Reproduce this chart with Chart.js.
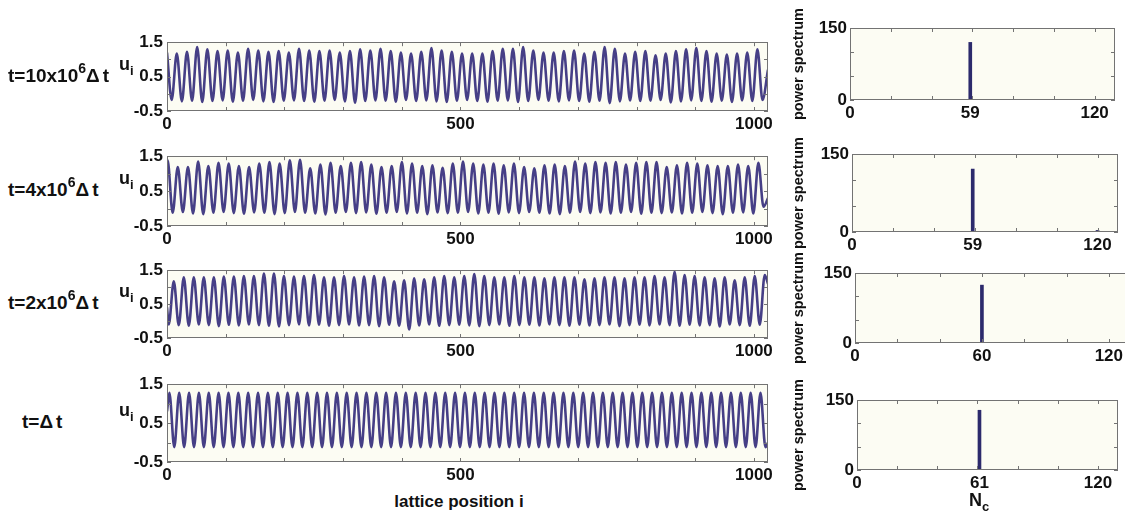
<!DOCTYPE html>
<html>
<head>
<meta charset="utf-8">
<script src="https://cdn.jsdelivr.net/npm/chart.js@4/dist/chart.umd.min.js"></script>
<style>
  html, body { margin:0; padding:0; background:#ffffff; width:1125px; height:517px; overflow:hidden; position:relative;
    font-family:'Liberation Sans', Arial, sans-serif; }
  canvas { position:absolute; }
  .lbl { position:absolute; font-weight:bold; color:#111; white-space:nowrap; line-height:22px; }
  .sup { position:relative; top:-9px; font-size:14px; }
  .sub { position:relative; top:5px; font-size:13px; }
  .gap { margin-left:3px; }
</style>
</head>
<body>
<script>
// ---------------- DATA ----------------
const latticeLength = 1024;
const rowPrefix   = ['t=10x10', 't=4x10', 't=2x10', 't='];
const rowExponent = ['6', '6', '6', ''];
const rowDelta = 'Δ';
const rowT = 't';
const waveTitle = 'u';
const waveTitleSub = 'i';
const latticeTitle = 'lattice position i';
const spectrumTitle = 'power spectrum';
const spectrumXTitle = 'N';
const spectrumXTitleSub = 'c';

const waveXTickLabels = [0, 500, 1000];
const waveYTickLabels = [-0.5, 0.5, 1.5];
const waveXMinorTicks = [0, 100, 200, 300, 400, 500, 600, 700, 800, 900, 1000];
const waveYMinorTicks = [-0.5, 0, 0.5, 1, 1.5];

// number of periods of each wave
const periods = [59, 59, 60, 61];
// phase information
const firstExtremumPos = [8, 1, 3, 4];
const firstIsPeak = [false, true, false, true];
const startValues = [1.2, 1.3, 0.4, 0.8];
const endValues = [0.7, 0.3, 1.1, 0.0];

const peaks1 = [1.17,1.22,1.36,1.29,1.24,1.26,1.20,1.31,1.26,1.22,
  1.24,1.20,1.31,1.26,1.24,1.26,1.20,1.24,1.29,1.26,
  1.31,1.24,1.20,1.17,1.22,1.33,1.26,1.22,1.17,1.17,
  1.17,1.24,1.31,1.31,1.36,1.26,1.20,1.20,1.24,1.26,
  1.17,1.22,1.36,1.31,1.17,1.22,1.24,1.12,1.17,1.24,
  1.29,1.33,1.24,1.17,1.14,1.17,1.20,1.29];
const troughs1 = [-0.18,-0.22,-0.20,-0.24,-0.21,-0.19,-0.23,-0.20,-0.18,-0.22,
  -0.24,-0.20,-0.19,-0.21,-0.23,-0.20,-0.18,-0.22,-0.26,-0.21,
  -0.19,-0.20,-0.23,-0.18,-0.21,-0.19,-0.22,-0.24,-0.20,-0.18,
  -0.21,-0.23,-0.20,-0.19,-0.24,-0.21,-0.18,-0.20,-0.22,-0.19,
  -0.21,-0.23,-0.20,-0.27,-0.22,-0.19,-0.21,-0.20,-0.18,-0.25,
  -0.22,-0.19,-0.21,-0.23,-0.20,-0.24,-0.19,-0.21,-0.18];

const peaks2 = [1.38,1.19,1.19,1.35,1.22,1.31,1.29,1.22,1.19,1.29,
  1.33,1.29,1.38,1.40,1.15,1.26,1.31,1.22,1.31,1.33,
  1.26,1.19,1.22,1.33,1.29,1.22,1.24,1.17,1.29,1.35,
  1.29,1.26,1.29,1.24,1.29,1.19,1.15,1.24,1.26,1.22,
  1.35,1.29,1.33,1.31,1.33,1.26,1.31,1.33,1.33,1.19,
  1.24,1.31,1.29,1.24,1.22,1.22,1.26,1.22,1.31];
const troughs2 = [-0.12,-0.10,-0.14,-0.16,-0.12,-0.10,-0.13,-0.15,-0.11,-0.12,
  -0.16,-0.13,-0.10,-0.12,-0.14,-0.17,-0.12,-0.10,-0.13,-0.11,
  -0.15,-0.12,-0.10,-0.14,-0.12,-0.16,-0.11,-0.13,-0.12,-0.10,
  -0.14,-0.12,-0.15,-0.11,-0.13,-0.10,-0.12,-0.14,-0.16,-0.12,
  -0.10,-0.13,-0.11,-0.14,-0.12,-0.10,-0.15,-0.12,-0.13,-0.11,
  -0.14,-0.12,-0.10,-0.13,-0.16,-0.12,-0.11,-0.14,0.05];

const peaks3 = [1.17,1.29,1.29,1.29,1.29,1.31,1.31,1.33,1.33,1.40,
  1.40,1.33,1.31,1.33,1.36,1.29,1.29,1.33,1.29,1.31,
  1.33,1.29,1.17,1.20,1.26,1.23,1.29,1.33,1.29,1.33,
  1.39,1.33,1.29,1.29,1.33,1.29,1.29,1.26,1.29,1.29,
  1.29,1.23,1.26,1.29,1.29,1.26,1.29,1.29,1.33,1.29,
  1.45,1.36,1.33,1.29,1.26,1.29,1.20,1.29,1.33,1.36];
const troughs3 = [-0.10,-0.12,-0.14,-0.10,-0.12,-0.15,-0.11,-0.13,-0.10,-0.12,
  -0.14,-0.16,-0.12,-0.10,-0.13,-0.11,-0.14,-0.12,-0.10,-0.13,
  -0.12,-0.15,-0.11,-0.14,-0.25,-0.13,-0.10,-0.14,-0.12,-0.11,
  -0.13,-0.15,-0.12,-0.10,-0.14,-0.12,-0.11,-0.13,-0.10,-0.12,
  -0.14,-0.11,-0.13,-0.12,-0.10,-0.15,-0.12,-0.11,-0.13,-0.10,
  -0.12,-0.14,-0.11,-0.13,-0.12,-0.16,-0.10,-0.12,-0.14,-0.11];

const peaks4 = [1.28,1.28,1.28,1.28,1.28,1.28,1.28,1.28,1.28,1.28,
  1.28,1.28,1.28,1.28,1.28,1.28,1.28,1.28,1.28,1.28,
  1.28,1.28,1.28,1.28,1.28,1.28,1.28,1.28,1.28,1.28,
  1.28,1.28,1.28,1.28,1.28,1.28,1.28,1.28,1.28,1.28,
  1.28,1.28,1.28,1.28,1.28,1.28,1.28,1.28,1.28,1.28,
  1.28,1.28,1.28,1.28,1.28,1.28,1.28,1.28,1.28,1.28,1.28];
const troughs4 = [-0.12,-0.12,-0.12,-0.12,-0.12,-0.12,-0.12,-0.12,-0.12,-0.12,
  -0.12,-0.12,-0.12,-0.12,-0.12,-0.12,-0.12,-0.12,-0.12,-0.12,
  -0.12,-0.12,-0.12,-0.12,-0.12,-0.12,-0.12,-0.12,-0.12,-0.12,
  -0.12,-0.12,-0.12,-0.12,-0.12,-0.12,-0.12,-0.12,-0.12,-0.12,
  -0.12,-0.12,-0.12,-0.12,-0.12,-0.12,-0.12,-0.12,-0.12,-0.12,
  -0.12,-0.12,-0.12,-0.12,-0.12,-0.12,-0.12,-0.12,-0.12,-0.12,-0.12];

const peaks = [peaks1, peaks2, peaks3, peaks4];
const troughs = [troughs1, troughs2, troughs3, troughs4];

// power spectra
const spectrumX = [[59], [59, 120], [60], [61]];
const spectrumY = [[120], [121, 3], [124], [128]];
const spectrumXTickLabels = [[0, 59, 120], [0, 59, 120], [0, 60, 120], [0, 61, 120]];
const spectrumYTickLabels = [0, 150];
const spectrumXMinorTicks = [0, 20, 40, 60, 80, 100, 120];
const spectrumYMinorTicks = [0, 50, 100, 150];
const spectrumXMax = 130;
const spectrumYMax = 150;

// ---------------- LAYOUT / STYLE ----------------
const FONT = "'Liberation Sans', Arial, sans-serif";
const lineColor = '#463f86';
const spikeColor = '#2c2a6c';
const plotBg = '#fcfcf3';
const frameColor = '#737373';
const textColor = '#111111';

const leftPlotTop = [40, 154, 268, 382];
const leftPlotH = [71, 72, 70, 80];
const leftPlotLeft = 167, leftPlotRight = 768, leftCanvasLeft = 100;

const rightPlotTop = [28, 154, 273, 400];
const rightPlotH = [72, 78, 70, 70];
const rightPlotLeft = [850, 852, 855, 857];
const rightPlotRight = [1115, 1118, 1130, 1118];
const rightCanvasLeft = 790;

Chart.defaults.font.family = FONT;
Chart.defaults.font.weight = 'bold';
Chart.defaults.color = textColor;

const framePlugin = {
  id: 'frame',
  beforeDraw(chart, args, o) {
    const { ctx, chartArea: a } = chart;
    ctx.save();
    ctx.fillStyle = o.bg;
    ctx.fillRect(a.left, a.top, a.right - a.left, a.bottom - a.top);
    ctx.restore();
  },
  afterDraw(chart, args, o) {
    const { ctx, chartArea: a, scales } = chart;
    const x = scales.x, y = scales.y;
    ctx.save();
    ctx.strokeStyle = o.color;
    ctx.lineWidth = 1;
    ctx.strokeRect(Math.round(a.left) + 0.5, Math.round(a.top) + 0.5,
      Math.round(a.right - a.left) - 1, Math.round(a.bottom - a.top) - 1);
    ctx.beginPath();
    o.xTicks.forEach(v => {
      const px = Math.round(x.getPixelForValue(v)) + 0.5;
      if (px < a.left || px > a.right) return;
      ctx.moveTo(px, a.bottom); ctx.lineTo(px, a.bottom - o.len);
      ctx.moveTo(px, a.top); ctx.lineTo(px, a.top + o.len);
    });
    o.yTicks.forEach(v => {
      const py = Math.round(y.getPixelForValue(v)) + 0.5;
      ctx.moveTo(a.left, py); ctx.lineTo(a.left + o.len, py);
      ctx.moveTo(a.right, py); ctx.lineTo(a.right - o.len, py);
    });
    ctx.stroke();
    ctx.restore();
  }
};

function makeCanvas(left, top, w, h) {
  const c = document.createElement('canvas');
  c.width = w; c.height = h;
  c.style.left = left + 'px'; c.style.top = top + 'px';
  c.style.width = w + 'px'; c.style.height = h + 'px';
  document.body.appendChild(c);
  return c;
}

function addLabel(html, left, top, size, centered) {
  const d = document.createElement('div');
  d.className = 'lbl';
  d.style.left = left + 'px'; d.style.top = top + 'px';
  d.style.fontSize = size + 'px';
  if (centered) d.style.transform = 'translateX(-50%)';
  d.innerHTML = html;
  document.body.appendChild(d);
  return d;
}

function buildWave(r) {
  const half = latticeLength / periods[r] / 2;
  const pts = [{ x: 0, y: startValues[r] }];
  const pk = peaks[r], tr = troughs[r];
  let ip = 0, it = 0, isPeak = firstIsPeak[r];
  for (let k = 0; ; k++) {
    const pos = firstExtremumPos[r] + k * half;
    if (pos >= latticeLength) break;
    if (isPeak) { if (ip >= pk.length) break; pts.push({ x: pos, y: pk[ip++] }); }
    else { if (it >= tr.length) break; pts.push({ x: pos, y: tr[it++] }); }
    isPeak = !isPeak;
  }
  pts.push({ x: latticeLength, y: endValues[r] });
  return pts;
}

function leftChart(r) {
  const top = leftPlotTop[r], h = leftPlotH[r];
  const padTop = 12;
  const axisH = 28;
  const padRight = 12;
  const w = leftPlotRight - leftCanvasLeft + padRight;
  const canvas = makeCanvas(leftCanvasLeft, top - padTop, w, padTop + h + axisH);
  new Chart(canvas, {
    type: 'line',
    data: { datasets: [{
      data: buildWave(r), borderColor: lineColor, borderWidth: 2.6, pointRadius: 0,
      cubicInterpolationMode: 'monotone', fill: false
    }] },
    options: {
      responsive: false, animation: false, events: [],
      layout: { padding: { top: padTop, right: padRight, left: 0, bottom: 0 } },
      plugins: {
        legend: { display: false }, tooltip: { enabled: false },
        frame: { bg: plotBg, color: frameColor, len: 4, xTicks: waveXMinorTicks, yTicks: waveYMinorTicks }
      },
      scales: {
        x: {
          type: 'linear', min: 0, max: latticeLength,
          grid: { display: false, drawTicks: false }, border: { display: false },
          afterBuildTicks: s => { s.ticks = waveXTickLabels.map(v => ({ value: v })); },
          afterFit: s => { s.height = axisH; },
          ticks: { padding: 3, font: { size: 17, weight: 'bold' }, color: textColor, maxRotation: 0, autoSkip: false,
                   callback: v => String(v) }
        },
        y: {
          type: 'linear', min: -0.5, max: 1.5,
          grid: { display: false, drawTicks: false }, border: { display: false },
          afterBuildTicks: s => { s.ticks = waveYTickLabels.map(v => ({ value: v })); },
          afterFit: s => { s.width = leftPlotLeft - leftCanvasLeft; },
          ticks: { padding: 4, font: { size: 17, weight: 'bold' }, color: textColor, autoSkip: false,
                   callback: v => String(v) }
        }
      }
    },
    plugins: [framePlugin]
  });
}

function rightChart(r) {
  const top = rightPlotTop[r], h = rightPlotH[r];
  const padTop = 30, axisH = 28, padRight = 15;
  const w = rightPlotRight[r] - rightCanvasLeft + padRight;
  const canvas = makeCanvas(rightCanvasLeft, top - padTop, w, padTop + h + axisH + 4);
  const pts = spectrumX[r].map((x, i) => ({ x: x, y: spectrumY[r][i] }));
  new Chart(canvas, {
    type: 'bar',
    data: { datasets: [{ data: pts, backgroundColor: spikeColor, borderWidth: 0, barThickness: 3 }] },
    options: {
      responsive: false, animation: false, events: [],
      layout: { padding: { top: padTop, right: padRight, left: 0, bottom: 4 } },
      plugins: {
        legend: { display: false }, tooltip: { enabled: false },
        frame: { bg: plotBg, color: frameColor, len: 4, xTicks: spectrumXMinorTicks, yTicks: spectrumYMinorTicks }
      },
      scales: {
        x: {
          type: 'linear', min: 0, max: spectrumXMax, offset: false,
          grid: { display: false, drawTicks: false, offset: false }, border: { display: false },
          afterBuildTicks: s => { s.ticks = spectrumXTickLabels[r].map(v => ({ value: v })); },
          afterFit: s => { s.height = axisH; },
          ticks: { padding: 3, font: { size: 17, weight: 'bold' }, color: textColor, maxRotation: 0, autoSkip: false,
                   callback: v => String(v) }
        },
        y: {
          type: 'linear', min: 0, max: spectrumYMax,
          grid: { display: false, drawTicks: false }, border: { display: false },
          afterBuildTicks: s => { s.ticks = spectrumYTickLabels.map(v => ({ value: v })); },
          afterFit: s => { s.width = rightPlotLeft[r] - rightCanvasLeft; },
          ticks: { padding: 3, font: { size: 17, weight: 'bold' }, color: textColor, autoSkip: false,
                   callback: v => String(v) },
          title: { display: true, text: spectrumTitle, font: { size: 14.5, weight: 'bold' }, color: textColor, padding: 0 }
        }
      }
    },
    plugins: [framePlugin]
  });
}

for (let r = 0; r < 4; r++) {
  leftChart(r);
  rightChart(r);
  const y05 = leftPlotTop[r] + leftPlotH[r] / 2;
  const exp = rowExponent[r] ? '<span class="sup">' + rowExponent[r] + '</span>' : '';
  addLabel(rowPrefix[r] + exp + rowDelta + '<span class="gap">' + rowT + '</span>', r === 3 ? 22 : 8, y05 - 11, 19);
  addLabel(waveTitle + '<span class="sub">' + waveTitleSub + '</span>', 119, y05 - 12 - 11, 18);
}
addLabel(latticeTitle, 459, 491, 17, true);
addLabel(spectrumXTitle + '<span class="sub">' + spectrumXTitleSub + '</span>', 969, 489, 18);
</script>
</body>
</html>
